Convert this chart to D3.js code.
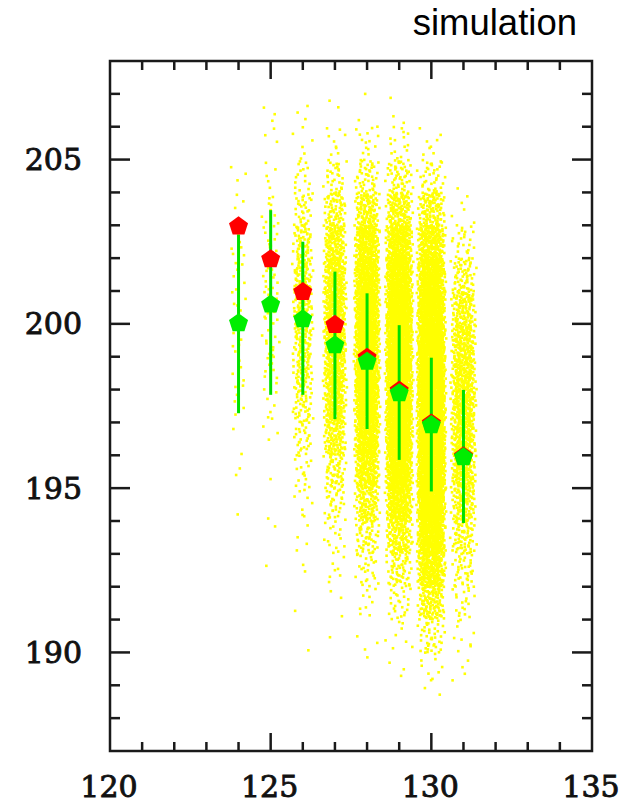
<!DOCTYPE html>
<html>
<head>
<meta charset="utf-8">
<script src="https://cdn.jsdelivr.net/npm/d3@7/dist/d3.min.js"></script>
<style>
  html, body { margin: 0; padding: 0; background: #fff; }
  svg { display: block; }
</style>
</head>
<body>
<svg id="chart" width="635" height="808"></svg>
<script>
// Input masses of the simulated samples
const masses = [124, 125, 126, 127, 128, 129, 130, 131];
// True (generated) value per sample
const trueValues = [203, 202, 201, 200, 199, 198, 197, 196];
// Reconstructed mean and its spread per sample
const fitValues = [200.05, 200.62, 200.17, 199.38, 198.88, 197.92, 196.95, 195.97];
const fitLow  = [197.28, 197.84, 197.84, 197.10, 196.80, 195.86, 194.90, 193.94];
const fitHigh = [202.72, 203.46, 202.50, 201.59, 200.93, 199.96, 198.97, 197.99];

// Simulated pseudo-experiments: counts per 1-unit bin (lower edges below)
const cloudBins = [188, 189, 190, 191, 192, 193, 194, 195, 196, 197, 198, 199, 200, 201, 202, 203, 204, 205, 206];
const cloud124 = [0, 0, 0, 0, 0, 0, 1, 2, 2, 4, 6, 6, 7, 6, 7, 4, 3, 0, 0];
const cloud125 = [0, 0, 0, 0, 1, 1, 1, 1, 3, 6, 10, 12, 14, 14, 12, 9, 5, 3, 3];
const cloud126 = [0, 0, 1, 1, 2, 4, 8, 15, 28, 45, 62, 72, 78, 72, 55, 32, 15, 6, 3];
const cloud127 = [0, 0, 1, 3, 7, 15, 32, 58, 105, 155, 195, 215, 210, 180, 130, 70, 30, 9, 2];
const cloud128 = [0, 1, 3, 9, 24, 55, 110, 195, 290, 360, 400, 410, 385, 325, 225, 115, 45, 13, 3];
const cloud129 = [0, 3, 8, 25, 60, 135, 250, 375, 480, 540, 560, 540, 490, 400, 275, 140, 52, 15, 3];
const cloud130 = [2, 10, 40, 120, 260, 420, 560, 650, 700, 700, 660, 600, 500, 380, 230, 110, 35, 8, 0];
const cloud131 = [0, 4, 9, 18, 38, 70, 110, 150, 180, 190, 180, 150, 110, 62, 24, 5, 1, 0, 0];
const cloudCounts = [cloud124, cloud125, cloud126, cloud127, cloud128, cloud129, cloud130, cloud131];
// Horizontal extent of each cloud (in x units either side of its mass)
const cloudHalfWidth = [0.28, 0.3, 0.34, 0.38, 0.42, 0.45, 0.47, 0.42];

const xTickLabels = [120, 125, 130, 135];
const yTickLabels = [190, 195, 200, 205];
const titleText = "simulation";

const svg = d3.select("#chart");
const plot = { left: 110, right: 592, top: 61, bottom: 751 };

const x = d3.scaleLinear().domain([120, 135]).range([plot.left, plot.right]);
const y = d3.scaleLinear().domain([187, 208]).range([plot.bottom, plot.top]);

// Low-discrepancy sequence used to spread the dots inside each bin
function halton(i, b) {
  let f = 1, r = 0;
  while (i > 0) { f /= b; r += f * (i % b); i = Math.floor(i / b); }
  return r;
}

const dots = [];
cloudCounts.forEach((counts, ci) => {
  let k = 1 + ci * 977;
  const hw = cloudHalfWidth[ci];
  counts.forEach((n, bi) => {
    for (let j = 0; j < n; j++, k++) {
      const v = 0.72 * halton(k, 2) + 0.28 * halton(k, 3);
      const dx = (v - 0.5) * 2 * hw;
      const dy = halton(k, 5);
      dots.push({ mx: masses[ci] + dx, my: cloudBins[bi] + dy });
    }
  });
});

svg.append("g")
  .selectAll("rect")
  .data(dots)
  .join("rect")
  .attr("x", d => x(d.mx) - 1.3)
  .attr("y", d => y(d.my) - 1.3)
  .attr("width", 2.6)
  .attr("height", 2.6)
  .attr("fill", "#ffff00");

// Error bars
svg.append("g")
  .selectAll("line")
  .data(masses)
  .join("line")
  .attr("x1", d => x(d)).attr("x2", d => x(d))
  .attr("y1", (d, i) => y(fitHigh[i]))
  .attr("y2", (d, i) => y(fitLow[i]))
  .attr("stroke", "#00e000")
  .attr("stroke-width", 3);

function pentagon(r) {
  const pts = d3.range(5).map(k => {
    const a = -Math.PI / 2 + k * 2 * Math.PI / 5;
    return [r * Math.cos(a), r * Math.sin(a)];
  });
  return "M" + pts.map(p => p.join(",")).join("L") + "Z";
}
const pent = pentagon(10);

svg.append("g")
  .selectAll("path")
  .data(masses)
  .join("path")
  .attr("d", pent)
  .attr("transform", (d, i) => `translate(${x(d)},${y(trueValues[i]) + 1})`)
  .attr("fill", "#ff0000");

svg.append("g")
  .selectAll("path")
  .data(masses)
  .join("path")
  .attr("d", pent)
  .attr("transform", (d, i) => `translate(${x(d)},${y(fitValues[i]) + 1})`)
  .attr("fill", "#00ee00");

// Frame
svg.append("rect")
  .attr("x", plot.left).attr("y", plot.top)
  .attr("width", plot.right - plot.left).attr("height", plot.bottom - plot.top)
  .attr("fill", "none").attr("stroke", "#1a1a1a").attr("stroke-width", 2.5);

// Inward ticks on all four sides
const tickColor = "#1a1a1a";
const xMinor = d3.range(121, 135);
const yMinor = d3.range(188, 208);
const tg = svg.append("g").attr("stroke", tickColor).attr("stroke-width", 2.5);
xMinor.forEach(v => {
  const len = v % 5 === 0 ? 18 : 9;
  tg.append("line").attr("x1", x(v)).attr("x2", x(v)).attr("y1", plot.bottom).attr("y2", plot.bottom - len);
  tg.append("line").attr("x1", x(v)).attr("x2", x(v)).attr("y1", plot.top).attr("y2", plot.top + len);
});
yMinor.forEach(v => {
  const len = v % 5 === 0 ? 20 : 10;
  tg.append("line").attr("y1", y(v)).attr("y2", y(v)).attr("x1", plot.left).attr("x2", plot.left + len);
  tg.append("line").attr("y1", y(v)).attr("y2", y(v)).attr("x1", plot.right).attr("x2", plot.right - len);
});

// Tick labels
const labelFont = "'DejaVu Serif', serif";
svg.append("g")
  .selectAll("text")
  .data(xTickLabels)
  .join("text")
  .attr("x", d => x(d) - 1)
  .attr("y", 797)
  .attr("text-anchor", "middle")
  .attr("font-family", labelFont)
  .attr("font-size", 30)
  .attr("fill", "#111")
  .attr("stroke", "#111")
  .attr("stroke-width", 0.9)
  .text(d => d);

svg.append("g")
  .selectAll("text")
  .data(yTickLabels)
  .join("text")
  .attr("x", 82)
  .attr("y", d => y(d) + 10.5)
  .attr("text-anchor", "end")
  .attr("font-family", labelFont)
  .attr("font-size", 30)
  .attr("fill", "#111")
  .attr("stroke", "#111")
  .attr("stroke-width", 0.9)
  .text(d => d);

svg.append("text")
  .attr("x", 577)
  .attr("y", 35)
  .attr("text-anchor", "end")
  .attr("font-family", "'Liberation Sans', Arial, sans-serif")
  .attr("font-size", 36.5)
  .attr("fill", "#000")
  .text(titleText);
</script>
</body>
</html>
